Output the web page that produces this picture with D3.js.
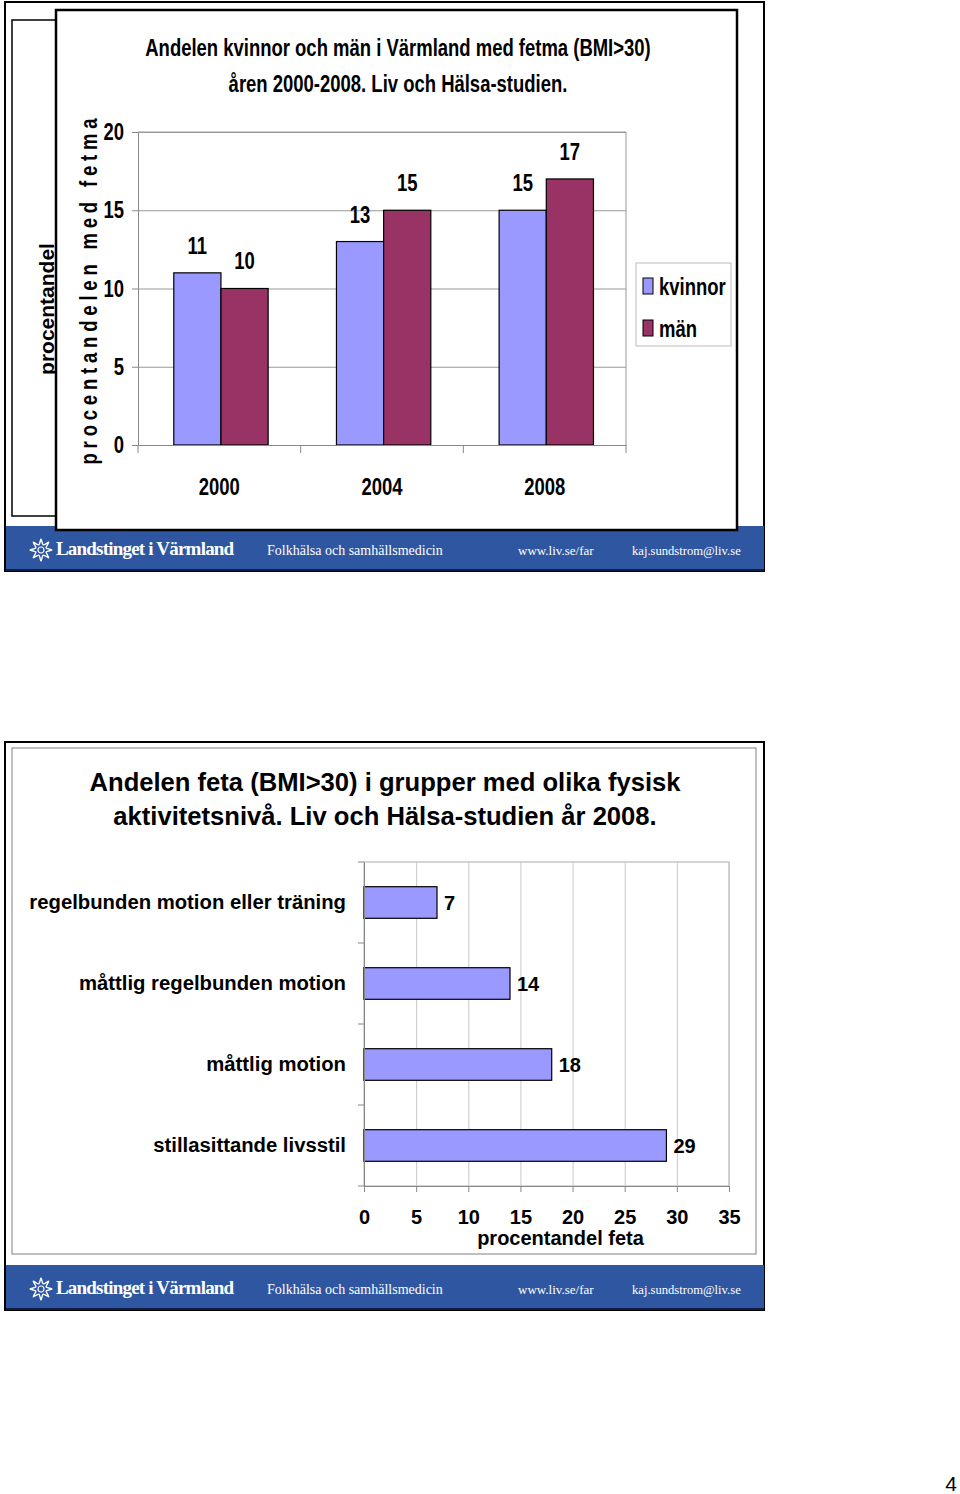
<!DOCTYPE html>
<html>
<head>
<meta charset="utf-8">
<script src="https://cdn.jsdelivr.net/npm/d3@7"></script>
<style>
  body { margin: 0; background: #fff; }
  svg { display: block; }
</style>
</head>
<body>
<script>
// data
const years = ['2000', '2004', '2008'];
const seriesNames = ['kvinnor', 'män'];
const kvinnor = [11, 13, 15];
const man = [10, 15, 17];
const yTicks1 = [0, 5, 10, 15, 20];

const activity = ['regelbunden motion eller träning', 'måttlig regelbunden motion', 'måttlig motion', 'stillasittande livsstil'];
const andelFeta = [7, 14, 18, 29];
const xTicks2 = [0, 5, 10, 15, 20, 25, 30, 35];

const w = 960;
const h = 1494;
const arial = '"Liberation Sans", Arial, sans-serif';
const serif = '"Liberation Serif", "DejaVu Serif", serif';
const colors = { 'kvinnor': '#9999ff', 'män': '#993366' };
const footBlue = '#2f56a0';
const squeeze = 0.77;

const svg = d3.select('body').append('svg')
  .attr('width', w)
  .attr('height', h);

// no narrow font installed, so squeeze Liberation Sans sideways
function narrow(sel, origin, size) {
  sel.style('font-family', arial)
    .style('font-weight', 'bold')
    .style('font-size', (size || 24) + 'px')
    .style('transform-box', 'fill-box')
    .style('transform-origin', origin || 'center')
    .style('transform', `scaleX(${squeeze})`);
}

// footer band with logo and texts
function footer(y0) {
  const g = svg.append('g').attr('transform', `translate(0,${y0})`);
  g.append('rect').attr('x', 6).attr('y', 0).attr('width', 758).attr('height', 45).attr('fill', footBlue);
  g.append('line').attr('x1', 6).attr('x2', 764).attr('y1', 44).attr('y2', 44).attr('stroke', '#0d1f45').attr('stroke-width', 2);
  // little flower logo
  const pts = d3.range(16).map(i => {
    const a = i * Math.PI / 8 - Math.PI / 2;
    const r = i % 2 === 0 ? 11 : 5.5;
    return [Math.cos(a) * r, Math.sin(a) * r];
  });
  const logo = g.append('g').attr('transform', 'translate(41,24)');
  logo.append('path').attr('d', d3.line().curve(d3.curveCardinalClosed.tension(0.3))(pts))
    .attr('fill', 'none').attr('stroke', '#fff').attr('stroke-width', 1.4);
  logo.append('circle').attr('r', 3).attr('fill', 'none').attr('stroke', '#fff').attr('stroke-width', 1.2);
  const txt = [
    { t: 'Landstinget i Värmland', x: 56, size: 19, weight: 'bold' },
    { t: 'Folkhälsa och samhällsmedicin', x: 267, size: 14 },
    { t: 'www.liv.se/far', x: 518, size: 13 },
    { t: 'kaj.sundstrom@liv.se', x: 632, size: 12.6 }
  ];
  g.selectAll('text.foot').data(txt).enter().append('text')
    .attr('class', 'foot')
    .attr('x', d => d.x)
    .attr('y', 29)
    .attr('fill', '#fff')
    .style('font-family', serif)
    .style('font-size', d => d.size + 'px')
    .style('font-weight', d => d.weight || 'normal')
    .style('letter-spacing', d => d.weight ? '-0.8px' : '0px')
    .text(d => d.t);
}

// ---------- slide 1 ----------
svg.append('rect').attr('x', 5).attr('y', 2).attr('width', 759).attr('height', 569)
  .attr('fill', '#fff').attr('stroke', '#000').attr('stroke-width', 2);
svg.append('rect').attr('x', 12).attr('y', 20).attr('width', 700).attr('height', 496)
  .attr('fill', '#fff').attr('stroke', '#000').attr('stroke-width', 1.5);
svg.append('text')
  .attr('transform', 'translate(54,309) rotate(-90)')
  .attr('text-anchor', 'middle')
  .style('font-family', arial)
  .style('font-weight', 'bold')
  .style('font-size', '21px')
  .text('procentandel');

footer(526);

svg.append('rect').attr('x', 56).attr('y', 10).attr('width', 681).attr('height', 520)
  .attr('fill', '#fff').attr('stroke', '#000').attr('stroke-width', 2.5);

// title
svg.append('g').selectAll('text')
  .data(['Andelen kvinnor och män i Värmland med fetma (BMI>30)', 'åren 2000-2008. Liv och Hälsa-studien.'])
  .enter().append('text')
  .attr('x', 398)
  .attr('y', (d, i) => 56 + i * 36)
  .attr('text-anchor', 'middle')
  .text(d => d)
  .call(narrow, 'center', 24);

const p1 = { l: 138, r: 626, t: 132, b: 445 };
const x0 = d3.scaleBand().domain(years).range([p1.l, p1.r]);
const x1 = d3.scaleBand().domain(seriesNames).range([x0.bandwidth() * 0.22, x0.bandwidth() * 0.80]);
const y1 = d3.scaleLinear().domain([0, 20]).range([p1.b, p1.t]);

// plot frame top + right
svg.append('path')
  .attr('d', `M${p1.l},${p1.t}H${p1.r}V${p1.b}`)
  .attr('fill', 'none').attr('stroke', '#999').attr('stroke-width', 1);

// gridlines
svg.append('g')
  .attr('transform', `translate(${p1.l},0)`)
  .call(d3.axisLeft(y1).tickValues(yTicks1).tickSize(-(p1.r - p1.l)).tickFormat(''))
  .call(g => g.select('.domain').remove())
  .call(g => g.selectAll('line').attr('stroke', '#999'));

const rows = years.map((yr, i) => ({ year: yr, vals: [{ s: 'kvinnor', v: kvinnor[i] }, { s: 'män', v: man[i] }] }));

const groups = svg.append('g').selectAll('g')
  .data(rows).enter().append('g')
  .attr('transform', d => `translate(${x0(d.year)},0)`);

groups.selectAll('rect')
  .data(d => d.vals).enter().append('rect')
  .attr('x', d => x1(d.s))
  .attr('y', d => y1(d.v))
  .attr('width', x1.bandwidth())
  .attr('height', d => y1(0) - y1(d.v))
  .attr('fill', d => colors[d.s])
  .attr('stroke', '#000')
  .attr('stroke-width', 1.2);

groups.selectAll('text')
  .data(d => d.vals).enter().append('text')
  .attr('x', d => x1(d.s) + x1.bandwidth() / 2)
  .attr('y', d => y1(d.v) - 19)
  .attr('text-anchor', 'middle')
  .text(d => d.v)
  .call(narrow, 'center', 24);

// y axis
const yAx = svg.append('g')
  .attr('transform', `translate(${p1.l},0)`)
  .call(d3.axisLeft(y1).tickValues(yTicks1).tickSize(6).tickPadding(8));
yAx.select('.domain').attr('stroke', '#888');
yAx.selectAll('line').attr('stroke', '#888');
yAx.selectAll('text').attr('fill', '#000').call(narrow, 'right', 24);

// x axis
const xAx = svg.append('g')
  .attr('transform', `translate(0,${p1.b})`)
  .call(d3.axisBottom(x0).tickSize(0).tickPadding(33));
xAx.select('.domain').attr('stroke', '#888');
xAx.selectAll('text').attr('fill', '#000').call(narrow, 'center', 24);
svg.append('g').selectAll('line')
  .data(years.map(d => x0(d)).concat([p1.r])).enter().append('line')
  .attr('x1', d => d).attr('x2', d => d)
  .attr('y1', p1.b).attr('y2', p1.b + 8)
  .attr('stroke', '#888');

svg.append('text')
  .attr('transform', `translate(97,${(p1.t + p1.b) / 2 + 3}) rotate(-90) scale(${squeeze},1)`)
  .attr('text-anchor', 'middle')
  .attr('textLength', 346 / squeeze)
  .attr('lengthAdjust', 'spacing')
  .style('font-family', arial)
  .style('font-weight', 'bold')
  .style('font-size', '24px')
  .text('procentandelen med fetma');

// legend
const lg = svg.append('g').attr('transform', 'translate(636,263)');
lg.append('rect').attr('width', 95).attr('height', 83).attr('fill', '#fff').attr('stroke', '#bbb');
lg.selectAll('g').data(seriesNames).enter().append('g')
  .attr('transform', (d, i) => `translate(7,${15 + i * 42})`)
  .call(g => g.append('rect').attr('width', 10).attr('height', 16)
    .attr('fill', d => colors[d]).attr('stroke', '#000'))
  .call(g => g.append('text').attr('x', 16).attr('y', 17)
    .text(d => d).call(narrow, 'left', 24));

// ---------- slide 2 ----------
svg.append('rect').attr('x', 5).attr('y', 742).attr('width', 759).attr('height', 568)
  .attr('fill', '#fff').attr('stroke', '#000').attr('stroke-width', 2);
svg.append('rect').attr('x', 12).attr('y', 748).attr('width', 744).attr('height', 506)
  .attr('fill', '#fff').attr('stroke', '#aaa').attr('stroke-width', 1.5);
footer(1265);

svg.append('g').selectAll('text')
  .data(['Andelen feta (BMI>30) i grupper med olika fysisk', 'aktivitetsnivå. Liv och Hälsa-studien år 2008.'])
  .enter().append('text')
  .attr('x', 385)
  .attr('y', (d, i) => 791 + i * 34)
  .attr('text-anchor', 'middle')
  .style('font-family', arial)
  .style('font-weight', 'bold')
  .style('font-size', '25.6px')
  .text(d => d);

const p2 = { l: 364, r: 729, t: 862, b: 1186 };
const x2 = d3.scaleLinear().domain([0, 35]).range([p2.l, p2.r]);
const y2 = d3.scaleBand().domain(activity).range([p2.t, p2.b]);
const barH = y2.bandwidth() * 0.39;

svg.append('rect').attr('x', p2.l).attr('y', p2.t).attr('width', p2.r - p2.l).attr('height', p2.b - p2.t)
  .attr('fill', 'none').attr('stroke', '#aaa');

svg.append('g')
  .attr('transform', `translate(0,${p2.b})`)
  .call(d3.axisBottom(x2).tickValues(xTicks2).tickSize(-(p2.b - p2.t)).tickFormat(''))
  .call(g => g.select('.domain').remove())
  .call(g => g.selectAll('line').attr('stroke', '#c8c8c8'));

const act = activity.map((a, i) => ({ a: a, v: andelFeta[i] }));

svg.append('g').selectAll('rect')
  .data(act).enter().append('rect')
  .attr('x', x2(0))
  .attr('y', d => y2(d.a) + (y2.bandwidth() - barH) / 2)
  .attr('width', d => x2(d.v) - x2(0))
  .attr('height', barH)
  .attr('fill', '#9999ff')
  .attr('stroke', '#000')
  .attr('stroke-width', 1.2);

svg.append('g').selectAll('text')
  .data(act).enter().append('text')
  .attr('x', d => x2(d.v) + 7)
  .attr('y', d => y2(d.a) + y2.bandwidth() / 2 + 7)
  .style('font-family', arial)
  .style('font-weight', 'bold')
  .style('font-size', '20px')
  .text(d => d.v);

const yAx2 = svg.append('g')
  .attr('transform', `translate(${p2.l},0)`)
  .call(d3.axisLeft(y2).tickSize(0).tickPadding(18));
yAx2.select('.domain').attr('stroke', '#888');
yAx2.selectAll('text').style('font-family', arial).style('font-weight', 'bold').style('font-size', '20.3px').attr('fill', '#000');
svg.append('g').selectAll('line')
  .data(activity.map(a => y2(a)).concat([p2.b])).enter().append('line')
  .attr('x1', p2.l - 6).attr('x2', p2.l)
  .attr('y1', d => d).attr('y2', d => d)
  .attr('stroke', '#888');

const xAx2 = svg.append('g')
  .attr('transform', `translate(0,${p2.b})`)
  .call(d3.axisBottom(x2).tickValues(xTicks2).tickSize(6).tickPadding(18));
xAx2.select('.domain').attr('stroke', '#888');
xAx2.selectAll('line').attr('stroke', '#888');
xAx2.selectAll('text').style('font-family', arial).style('font-weight', 'bold').style('font-size', '20px').attr('fill', '#000');

svg.append('text')
  .attr('x', (p2.l + p2.r) / 2 + 14)
  .attr('y', 1245)
  .attr('text-anchor', 'middle')
  .style('font-family', arial)
  .style('font-weight', 'bold')
  .style('font-size', '20px')
  .text('procentandel feta');

// page number
svg.append('text')
  .attr('x', 951).attr('y', 1491)
  .attr('text-anchor', 'middle')
  .style('font-family', arial)
  .style('font-size', '21px')
  .text('4');
</script>
</body>
</html>
